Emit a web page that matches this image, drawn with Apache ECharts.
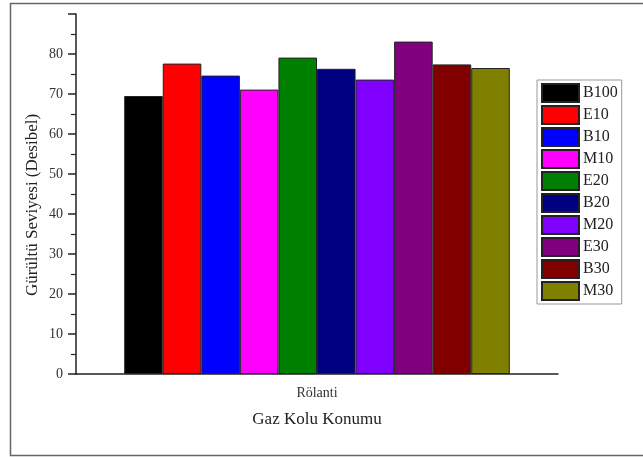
<!DOCTYPE html>
<html><head><meta charset="utf-8">
<script src="https://cdn.jsdelivr.net/npm/echarts@6/dist/echarts.min.js"></script>
<style>html,body{margin:0;padding:0;background:#fff}#c{width:643px;height:457px}</style>
</head><body><div id="c"></div>
<script>
const categories = ['Rölanti'];
const seriesNames = ['B100','E10','B10','M10','E20','B20','M20','E30','B30','M30'];
const seriesValues = [69.5, 77.6, 74.6, 71.1, 79.1, 76.3, 73.6, 83.1, 77.4, 76.5];
const seriesColors = ['#000000','#ff0000','#0000ff','#ff00ff','#008000','#000080','#8000ff','#800080','#800000','#808000'];
const yTicks = [0,10,20,30,40,50,60,70,80];
const yTitle = 'Gürültü Seviyesi (Desibel)';
const xTitle = 'Gaz Kolu Konumu';

const font = 'Liberation Serif, Times New Roman, serif';
const chart = echarts.init(document.getElementById('c'), null, {renderer:'canvas'});
chart.setOption({
  animation:false,
  backgroundColor:'#fff',
  graphic:[
    {type:'rect',shape:{x:10.5,y:3.5,width:700,height:452},style:{fill:'none',stroke:'#666',lineWidth:1.5},silent:true,z:-1},
    {type:'text',x:33,y:205,rotation:Math.PI/2,style:{text:yTitle,font:'17px '+font,fill:'#222',align:'center',verticalAlign:'middle'},silent:true}
  ],
  grid:{left:76,right:85,top:14,bottom:83,containLabel:false},
  legend:{
    orient:'vertical',left:537,top:80,padding:[3,4,3,4],
    itemWidth:37,itemHeight:18,itemGap:2,icon:'rect',
    borderColor:'#999',borderWidth:1,
    textStyle:{fontFamily:font,fontSize:16,color:'#222',padding:[0,0,0,-1]},
    data:seriesNames
  },
  xAxis:{
    type:'category',data:categories,
    axisLine:{lineStyle:{color:'#222',width:1.5}},
    axisTick:{alignWithLabel:true,length:7,lineStyle:{color:'#222',width:1.5}},
    axisLabel:{fontFamily:font,fontSize:14,color:'#333',margin:12},
    name:xTitle,nameLocation:'middle',nameGap:37,
    nameTextStyle:{fontFamily:font,fontSize:17,color:'#222'}
  },
  yAxis:{
    type:'value',min:0,max:90,interval:10,
    axisLine:{show:true,lineStyle:{color:'#222',width:1.5}},
    axisTick:{show:true,inside:false,length:8,lineStyle:{color:'#222',width:1.5}},
    minorTick:{show:true,splitNumber:2,length:5,lineStyle:{color:'#222',width:1.2}},
    splitLine:{show:false},
    axisLabel:{fontFamily:font,fontSize:14,color:'#333',margin:13,
      formatter:function(v){return yTicks.indexOf(v)>=0?String(v):'';}}
  },
  series:seriesNames.map(function(n,i){
    return {name:n,type:'bar',data:[seriesValues[i]],barGap:'0%',barCategoryGap:'20%',
      itemStyle:{color:seriesColors[i],borderColor:'#222',borderWidth:1}};
  })
});
</script></body></html>
